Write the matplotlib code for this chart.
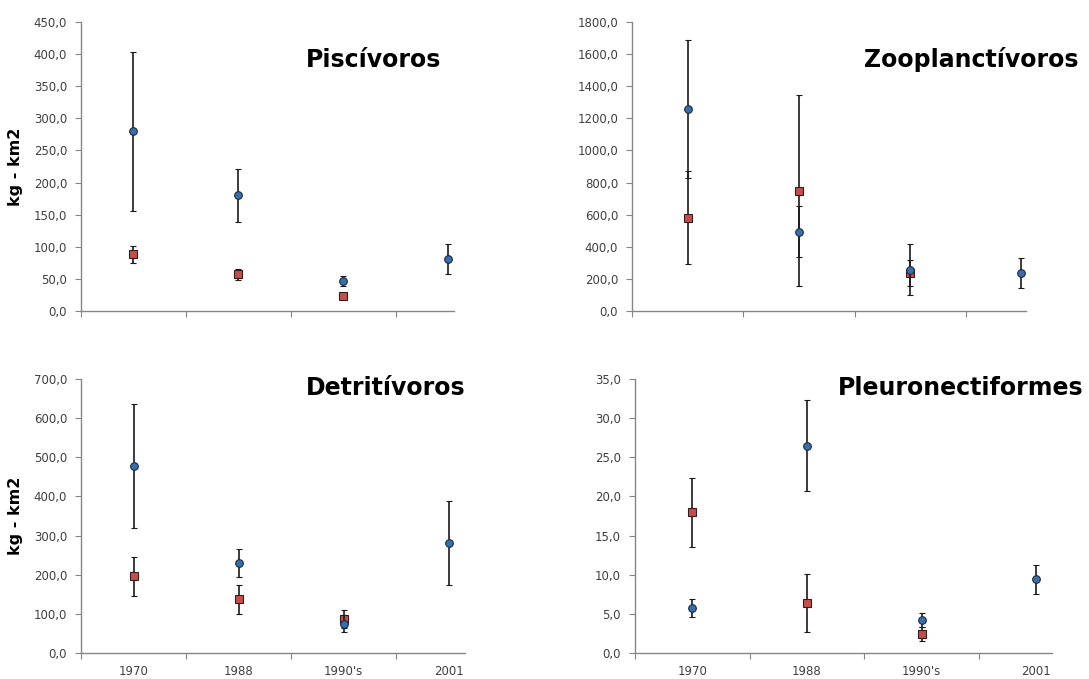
import numpy as np
import matplotlib
matplotlib.use("Agg")
import matplotlib.pyplot as plt

anos = ["1970", "1988", "1990's", "2001"]
nan = np.nan

# Piscivoros
pisc_azul = [280, 180, 47, 81]
pisc_azul_err = [124, 41, 8, 23]
pisc_verm = [88, 57, 23, nan]
pisc_verm_err = [13, 9, 3, nan]

# Zooplanctivoros
zoo_azul = [1258, 495, 257, 236]
zoo_azul_err = [432, 158, 160, 92]
zoo_verm = [582, 750, 237, nan]
zoo_verm_err = [288, 594, 83, nan]

# Detritivoros
det_azul = [477, 230, 75, 281]
det_azul_err = [158, 35, 22, 108]
det_verm = [196, 137, 87, nan]
det_verm_err = [50, 38, 24, nan]

# Pleuronectiformes
pleu_azul = [5.75, 26.5, 4.2, 9.4]
pleu_azul_err = [1.2, 5.8, 0.9, 1.9]
pleu_verm = [18.0, 6.4, 2.4, nan]
pleu_verm_err = [4.4, 3.7, 0.9, nan]

AZUL = "#3a6ea8"
VERM = "#c0504d"
CINZA = "#868686"


def painel(pos, titulo, tpos, azul, azul_err, verm, verm_err, ymax, ystep, xmax,
           rotulos_x, ylabel):
    ax = fig.add_axes(pos)
    x = np.arange(1, len(anos) + 1)
    ax.errorbar(x, verm, yerr=verm_err, fmt="s", color="#1a1a1a", ecolor="#1a1a1a",
                elinewidth=1.2, capsize=2, capthick=1.2, ms=5.5,
                mfc=VERM, mec="#3a1a1a", mew=0.8, zorder=3)
    ax.errorbar(x, azul, yerr=azul_err, fmt="o", color="#1a1a1a", ecolor="#1a1a1a",
                elinewidth=1.2, capsize=2, capthick=1.2, ms=5.5,
                mfc=AZUL, mec="#1a2a40", mew=0.8, zorder=4)
    ax.set_xlim(0.5, xmax)
    ax.set_ylim(0, ymax)
    yt = np.arange(0, ymax + ystep / 2, ystep)
    ax.set_yticks(yt)
    ax.set_yticklabels([("%.1f" % v).replace(".", ",") for v in yt])
    ax.set_xticks(np.arange(0.5, 4.0, 1.0))
    ax.set_xticklabels([])
    ax.set_xticks(x, minor=True)
    if rotulos_x:
        ax.set_xticklabels(anos, minor=True)
    ax.tick_params(axis="x", which="minor", length=0, pad=9, labelsize=8.5, labelcolor="#404040")
    ax.tick_params(axis="x", which="major", length=4, color=CINZA, direction="out")
    ax.tick_params(axis="y", length=4, color=CINZA, labelsize=8.5, labelcolor="#404040", pad=6)
    for s in ["top", "right"]:
        ax.spines[s].set_visible(False)
    for s in ["left", "bottom"]:
        ax.spines[s].set_color(CINZA)
        ax.spines[s].set_linewidth(1.0)
    if ylabel:
        ax.set_ylabel("kg - km2", fontsize=11.5, fontweight="bold", labelpad=8)
    fig.text(tpos[0], tpos[1], titulo, ha="right", va="center", fontsize=17,
             fontweight="bold")
    return ax


fig = plt.figure(figsize=(10.89, 6.79), dpi=100)

painel([0.0744, 0.542, 0.3425, 0.4256], "Pisc\u00edvoros", (0.405, 0.912),
       pisc_azul, pisc_azul_err, pisc_verm, pisc_verm_err, 450, 50, 4.056, False, True)
painel([0.5803, 0.542, 0.3618, 0.4256], "Zooplanct\u00edvoros", (0.99, 0.912),
       zoo_azul, zoo_azul_err, zoo_verm, zoo_verm_err, 1800, 200, 4.04, False, False)
painel([0.0744, 0.0383, 0.3526, 0.4035], "Detrit\u00edvoros", (0.427, 0.428),
       det_azul, det_azul_err, det_verm, det_verm_err, 700, 100, 4.157, True, True)
painel([0.5831, 0.0383, 0.3829, 0.4035], "Pleuronectiformes", (0.995, 0.428),
       pleu_azul, pleu_azul_err, pleu_verm, pleu_verm_err, 35, 5, 4.136, True, False)

fig.savefig("out.png", dpi=100)
